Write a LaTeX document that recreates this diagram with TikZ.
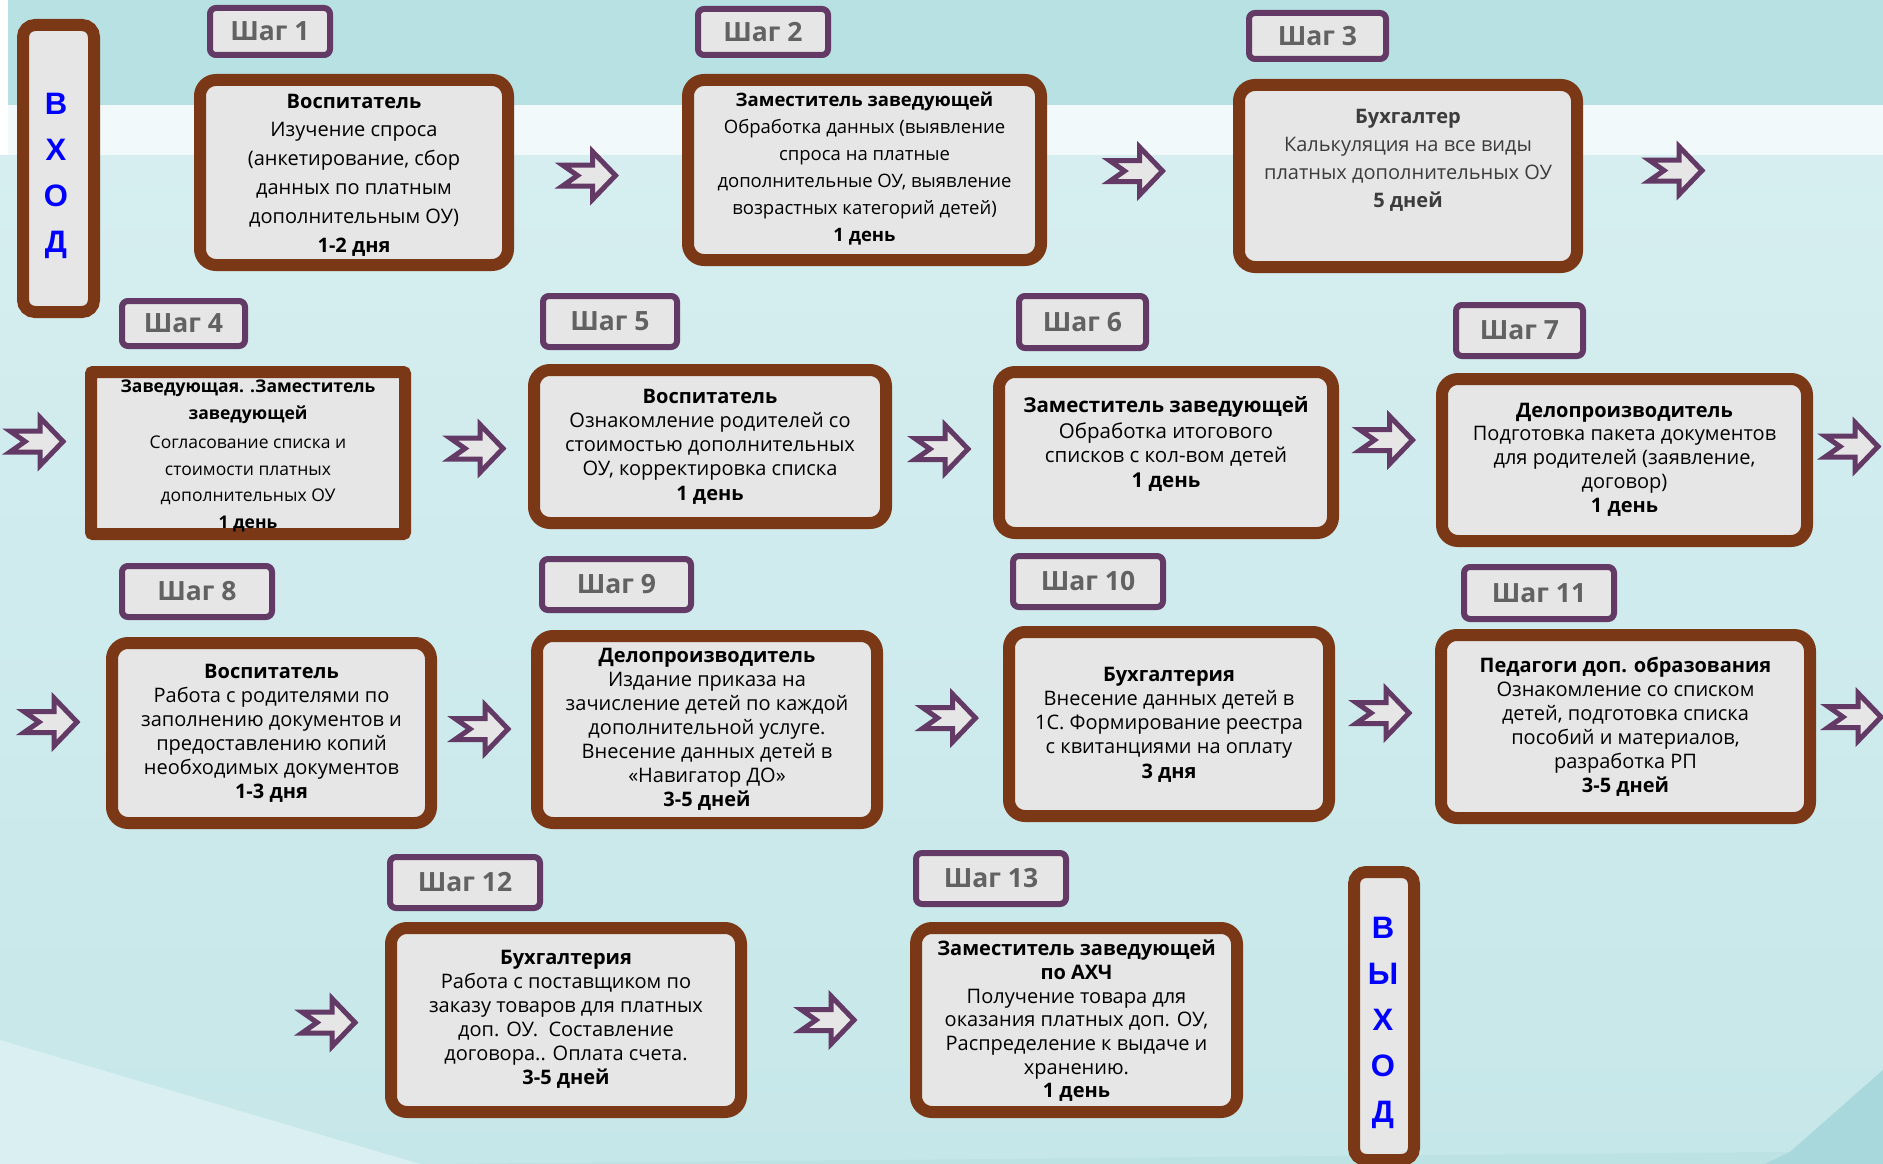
\documentclass[tikz,border=0pt]{standalone}
\usepackage{fontspec}
\setmainfont{Open Sans}
\newfontfamily\lettersf{Liberation Sans}
\definecolor{brownb}{HTML}{7A3816}
\definecolor{purp}{HTML}{633A66}
\definecolor{boxfill}{HTML}{E6E6E6}
\definecolor{steptext}{HTML}{626262}
\definecolor{bgtop}{HTML}{B8E1E3}
\definecolor{bgmain}{HTML}{D6EEF0}
\definecolor{bglow}{HTML}{C6E7E9}
\definecolor{bgband}{HTML}{F2F9FA}
\definecolor{bgdark}{HTML}{BCE2E4}
\definecolor{bgdarker}{HTML}{A8D8DB}
\definecolor{bglight}{HTML}{D9EFF1}
\definecolor{graytxt}{HTML}{3C3C3C}
\newcommand\fs[2]{\fontsize{#1}{#2}\selectfont}
\tikzset{
  bigbox/.style={draw=brownb, line width=12pt, fill=boxfill, rounded corners=16pt, inner sep=0pt, outer sep=0pt},
  stepbox/.style={draw=purp, line width=6pt, fill=boxfill, rounded corners=6pt, inner sep=0pt, outer sep=0pt,
    font=\fs{26.5}{30}\bfseries, text=steptext},
  txt/.style={align=center, inner sep=0pt, outer sep=0pt, text=black},
  vletters/.style={align=center, inner sep=0pt, text=blue, font=\lettersf\fs{31}{46.2}\bfseries},
  blockarrow/.pic={\draw[purp, line width=5pt, fill=boxfill, line join=miter]
     (-27,-10.5) -- (3,-10.5) -- (3,-24) -- (26,0) -- (3,24) -- (3,10.5) -- (-27,10.5) -- (-12,0) -- cycle;}
}
\newcommand\BigBox[6]{\node[bigbox, minimum width={#4-#2-12}, minimum height={#5-#3-12}, #6] (#1) at ({(#2+#4)/2},{(#3+#5)/2}) {};}
\newcommand\StepLbl[6]{\node[stepbox, minimum width={#4-#2-6}, minimum height={#5-#3-6}] (#1) at ({(#2+#4)/2},{(#3+#5)/2}) {#6};}
\begin{document}
\begin{tikzpicture}[x=1pt,y=-1pt]
\useasboundingbox (0,0) rectangle (1883,1164);
% background
\fill[bgmain] (0,0) rectangle (1883,1164);
\shade[top color=bgmain, bottom color=bglow] (0,155) rectangle (1883,1164);
\fill[bgtop] (8,0) rectangle (1883,105);
\fill[bgband] (0,105) rectangle (1883,155);
\fill[white] (0,0) rectangle (8,155);
\fill[bglight] (0,1040) -- (420,1164) -- (0,1164) -- cycle;
\fill[bgdark] (420,1164) -- (1790,1152) -- (1883,1070) -- (1883,1164) -- cycle;
\fill[bgdarker] (1790,1152) -- (1883,1070) -- (1883,1164) -- (1765,1164) -- cycle;

% entry / exit
\BigBox{vhod}{17}{19}{100}{318}{rounded corners=12pt}
\node[vletters] (vhodtxt) at (56,176) {В\\Х\\О\\Д};
\BigBox{vyhod}{1348}{866}{1420}{1166}{rounded corners=12pt}
\node[vletters] (vyhodtxt) at (1383,1023) {В\\Ы\\Х\\О\\Д};

% step labels
\StepLbl{s1}{207}{5}{333}{58}{Шаг 1}
\StepLbl{s2}{695}{6}{831}{58}{Шаг 2}
\StepLbl{s3}{1246}{10}{1389}{62}{Шаг 3}
\StepLbl{s4}{119}{298}{248}{349}{Шаг 4}
\StepLbl{s5}{540}{293}{680}{350}{Шаг 5}
\StepLbl{s6}{1016}{293}{1149}{351}{Шаг 6}
\StepLbl{s7}{1453}{302}{1586}{359}{Шаг 7}
\StepLbl{s8}{119}{563}{275}{620}{Шаг 8}
\StepLbl{s9}{539}{556}{694}{613}{Шаг 9}
\StepLbl{s10}{1010}{553}{1166}{610}{Шаг 10}
\StepLbl{s11}{1461}{564}{1617}{622}{Шаг 11}
\StepLbl{s12}{387}{854}{543}{911}{Шаг 12}
\StepLbl{s13}{913}{850}{1069}{907}{Шаг 13}

% main boxes
\BigBox{b1}{194}{74}{514}{271}{}
\BigBox{b2}{682}{74}{1047}{266}{}
\BigBox{b3}{1233}{79}{1583}{273}{}
\BigBox{b4}{85}{366}{411}{540}{rounded corners=2pt}
\BigBox{b5}{528}{364}{892}{529}{}
\BigBox{b6}{993}{366}{1339}{539}{}
\BigBox{b7}{1436}{373}{1813}{547}{}
\BigBox{b8}{106}{637}{437}{829}{}
\BigBox{b9}{531}{630}{883}{829}{}
\BigBox{b10}{1003}{626}{1335}{822}{}
\BigBox{b11}{1435}{629}{1816}{824}{}
\BigBox{b12}{385}{922}{747}{1118}{}
\BigBox{b13}{910}{922}{1243}{1118}{}

% texts
\node[txt, font=\fs{20}{28.8}] (t1) at (354,175) {\textbf{Воспитатель}\\Изучение спроса\\(анкетирование, сбор\\данных по платным\\дополнительным ОУ)\\\textbf{1-2 дня}};
\node[txt, font=\fs{18.5}{27}] (t2) at (864.5,168.5) {\textbf{Заместитель заведующей}\\Обработка данных (выявление\\спроса на платные\\дополнительные ОУ, выявление\\возрастных категорий детей)\\\textbf{1 день}};
\node[txt, text=graytxt, font=\fs{20}{28}] (t3) at (1408,160) {\textbf{Бухгалтер}\\Калькуляция на все виды\\платных дополнительных ОУ\\\textbf{5 дней}};
\node[txt, font=\fs{17.5}{26.5}] (t4) at (248,456) {\textbf{Заведующая. .Заместитель}\\\textbf{заведующей}\\[3pt]Согласование списка и\\стоимости платных\\дополнительных ОУ\\\textbf{1 день}};
\node[txt, font=\fs{20}{24.25}] (t5) at (710,446.5) {\textbf{Воспитатель}\\Ознакомление родителей со\\стоимостью дополнительных\\ОУ, корректировка списка\\\textbf{1 день}};
\node[txt, font=\fs{20.5}{25}] (t6) at (1166,444.5) {\textbf{Заместитель заведующей}\\Обработка итогового\\списков с кол-вом детей\\\textbf{1 день}};
\node[txt, font=\fs{20}{23.75}] (t7) at (1624.5,459.5) {\textbf{Делопроизводитель}\\Подготовка пакета документов\\для родителей (заявление,\\договор)\\\textbf{1 день}};
\node[txt, font=\fs{20}{24}] (t8) at (271.5,733) {\textbf{Воспитатель}\\Работа с родителями по\\заполнению документов и\\предоставлению копий\\необходимых документов\\\textbf{1-3 дня}};
\node[txt, font=\fs{20}{24}] (t9) at (707,729) {\textbf{Делопроизводитель}\\Издание приказа на\\зачисление детей по каждой\\дополнительной услуге.\\Внесение данных детей в\\«Навигатор ДО»\\\textbf{3-5 дней}};
\node[txt, font=\fs{20}{24.25}] (t10) at (1169,724.5) {\textbf{Бухгалтерия}\\Внесение данных детей в\\1С. Формирование реестра\\с квитанциями на оплату\\\textbf{3 дня}};
\node[txt, font=\fs{20}{24}] (t11) at (1625.5,727) {\textbf{Педагоги доп. образования}\\Ознакомление со списком\\детей, подготовка списка\\пособий и материалов,\\разработка РП\\\textbf{3-5 дней}};
\node[txt, font=\fs{20}{24}] (t12) at (566,1019) {\textbf{Бухгалтерия}\\Работа с поставщиком по\\заказу товаров для платных\\доп. ОУ.\ \ Составление\\договора.. Оплата счета.\\\textbf{3-5 дней}};
\node[txt, font=\fs{20}{23.7}] (t13) at (1076.5,1021) {\textbf{Заместитель заведующей}\\\textbf{по АХЧ}\\Получение товара для\\оказания платных доп. ОУ,\\Распределение к выдаче и\\хранению.\\\textbf{1 день}};

% block arrows
\foreach \p/\q in {589.5/175.5, 1136.5/171, 1676/170.5, 37/441.5, 477/448.5, 942/449, 1386.5/440, 1852/446.5,
                   51/722, 482/729, 949.5/718, 1383/713, 1855/717, 329/1022.5, 828/1020}
  \pic at (\p,\q) {blockarrow};
\end{tikzpicture}
\end{document}
